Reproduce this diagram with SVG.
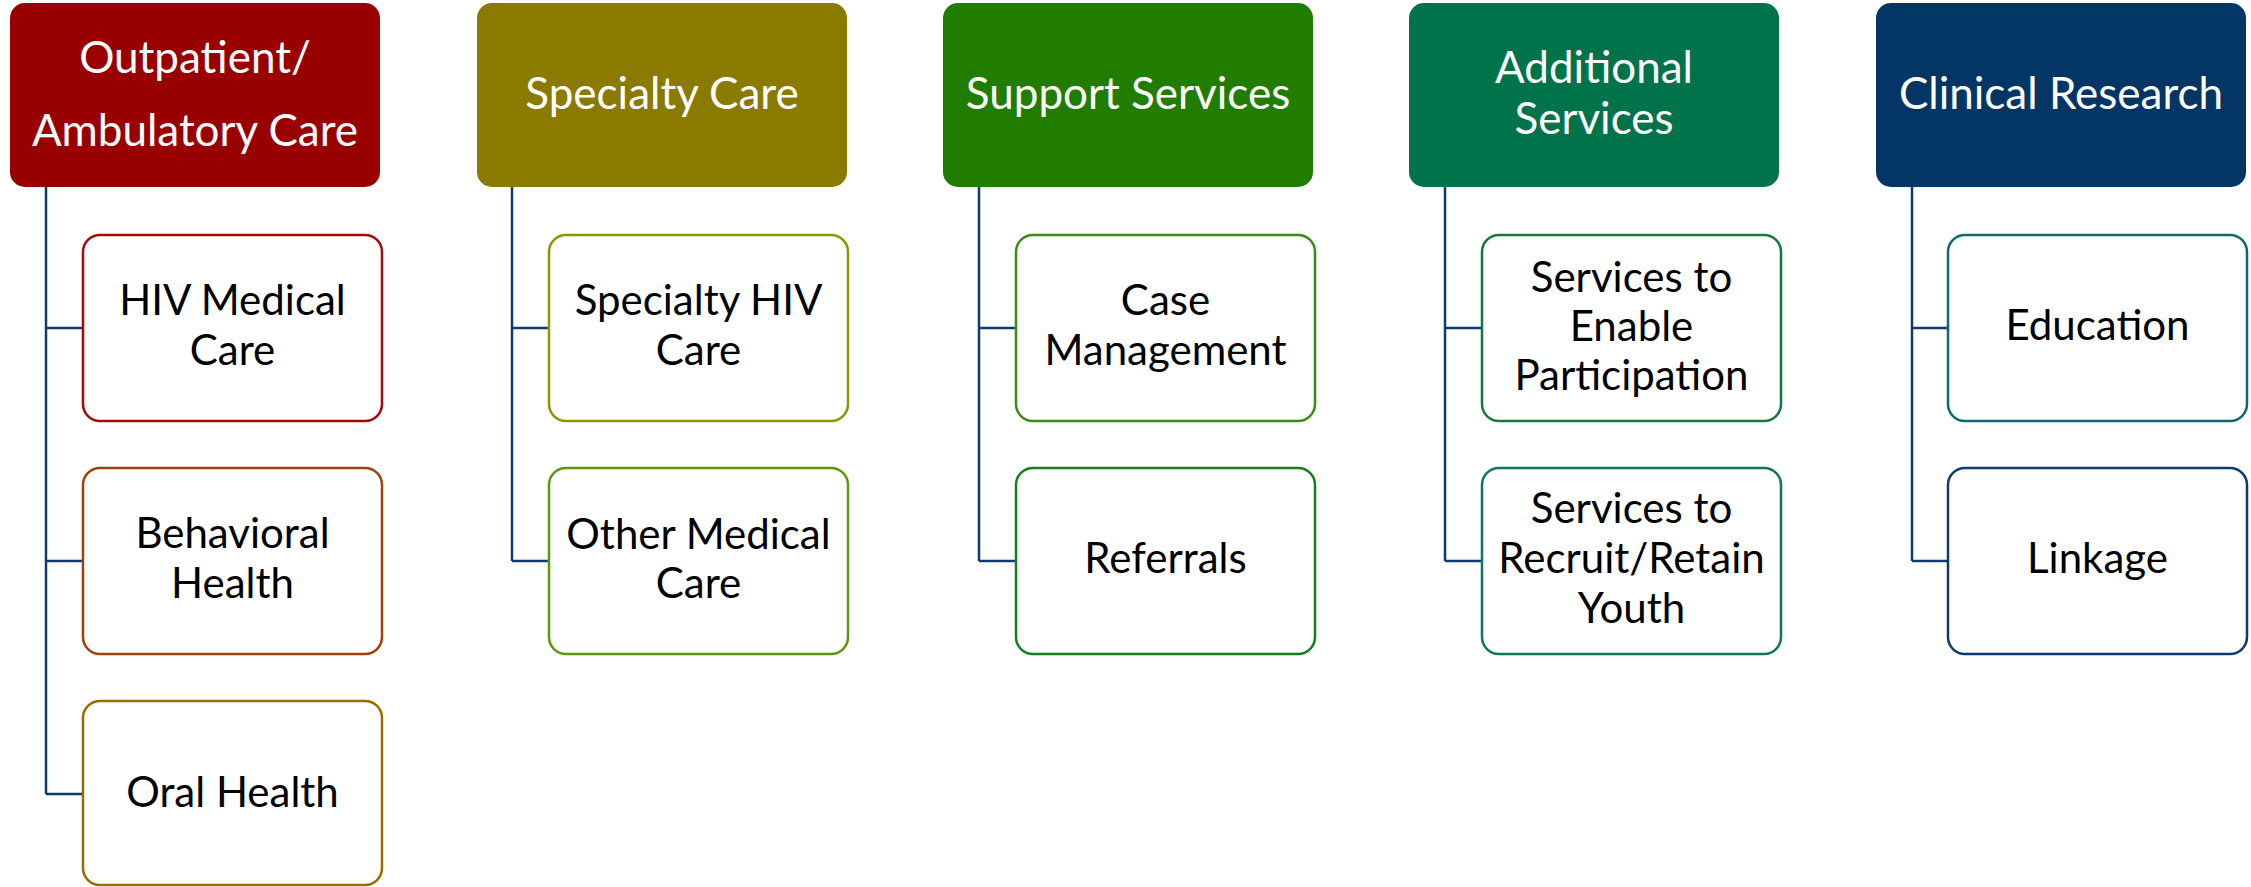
<svg xmlns="http://www.w3.org/2000/svg" width="2251" height="887" viewBox="0 0 2251 887">
<style>
.hd{stroke:none}
.ch{fill:#fff;stroke-width:2.5}
.ht{font-family:Lato,"Liberation Sans",sans-serif;font-size:44px;fill:#fff;text-anchor:middle}
.ct{font-family:Lato,"Liberation Sans",sans-serif;font-size:42px;fill:#000;text-anchor:middle}
.cn{fill:none;stroke:#0E3A70;stroke-width:2.5}
</style>
<rect width="2251" height="887" fill="#fff"/>
<g id="connectors">
<path class="cn" d="M46 187V794M46 328H83M46 561H83M46 794H83"/>
<path class="cn" d="M512 187V561M512 328H549M512 561H549"/>
<path class="cn" d="M979 187V561M979 328H1016M979 561H1016"/>
<path class="cn" d="M1445 187V561M1445 328H1482M1445 561H1482"/>
<path class="cn" d="M1912 187V561M1912 328H1949M1912 561H1949"/>
</g>
<g id="h1"><rect class="hd" x="10" y="3" width="370" height="184" rx="15" fill="#990000"/><text class="ht" x="195" y="73">Outpatient/</text><text class="ht" x="195" y="146">Ambulatory Care</text></g>
<g id="h2"><rect class="hd" x="477" y="3" width="370" height="184" rx="15" fill="#8B7A00"/><text class="ht" x="662" y="109">Specialty Care</text></g>
<g id="h3"><rect class="hd" x="943" y="3" width="370" height="184" rx="15" fill="#217D00"/><text class="ht" x="1128" y="109">Support Services</text></g>
<g id="h4"><rect class="hd" x="1409" y="3" width="370" height="184" rx="15" fill="#00734A"/><text class="ht" x="1594" y="83">Additional</text><text class="ht" x="1594" y="134">Services</text></g>
<g id="h5"><rect class="hd" x="1876" y="3" width="370" height="184" rx="15" fill="#033565"/><text class="ht" x="2061" y="109">Clinical Research</text></g>

<g id="c1a"><rect class="ch" x="83" y="235" width="299" height="186" rx="17" stroke="#A50A0A"/><text class="ct" x="232.5" y="315">HIV Medical</text><text class="ct" x="232.5" y="365">Care</text></g>
<g id="c1b"><rect class="ch" x="83" y="468" width="299" height="186" rx="17" stroke="#A0400C"/><text class="ct" x="232.5" y="548">Behavioral</text><text class="ct" x="232.5" y="598">Health</text></g>
<g id="c1c"><rect class="ch" x="83" y="701" width="299" height="184" rx="17" stroke="#9A6C00"/><text class="ct" x="232.5" y="807">Oral Health</text></g>

<g id="c2a"><rect class="ch" x="549" y="235" width="299" height="186" rx="17" stroke="#8C9600"/><text class="ct" x="698.5" y="315">Specialty HIV</text><text class="ct" x="698.5" y="365">Care</text></g>
<g id="c2b"><rect class="ch" x="549" y="468" width="299" height="186" rx="17" stroke="#5E9612"/><text class="ct" x="698.5" y="549">Other Medical</text><text class="ct" x="698.5" y="598">Care</text></g>

<g id="c3a"><rect class="ch" x="1016" y="235" width="299" height="186" rx="17" stroke="#3B8C14"/><text class="ct" x="1165.5" y="315">Case</text><text class="ct" x="1165.5" y="365">Management</text></g>
<g id="c3b"><rect class="ch" x="1016" y="468" width="299" height="186" rx="17" stroke="#14801C"/><text class="ct" x="1165.5" y="573">Referrals</text></g>

<g id="c4a"><rect class="ch" x="1482" y="235" width="299" height="186" rx="17" stroke="#137A3C"/><text class="ct" x="1631.5" y="292">Services to</text><text class="ct" x="1631.5" y="341">Enable</text><text class="ct" x="1631.5" y="390">Participation</text></g>
<g id="c4b"><rect class="ch" x="1482" y="468" width="299" height="186" rx="17" stroke="#0E7760"/><text class="ct" x="1631.5" y="523">Services to</text><text class="ct" x="1631.5" y="573">Recruit/Retain</text><text class="ct" x="1631.5" y="623">Youth</text></g>

<g id="c5a"><rect class="ch" x="1948" y="235" width="299" height="186" rx="17" stroke="#0F6A70"/><text class="ct" x="2097.5" y="340">Education</text></g>
<g id="c5b"><rect class="ch" x="1948" y="468" width="299" height="186" rx="17" stroke="#0E3A6E"/><text class="ct" x="2097.5" y="573">Linkage</text></g>
</svg>
